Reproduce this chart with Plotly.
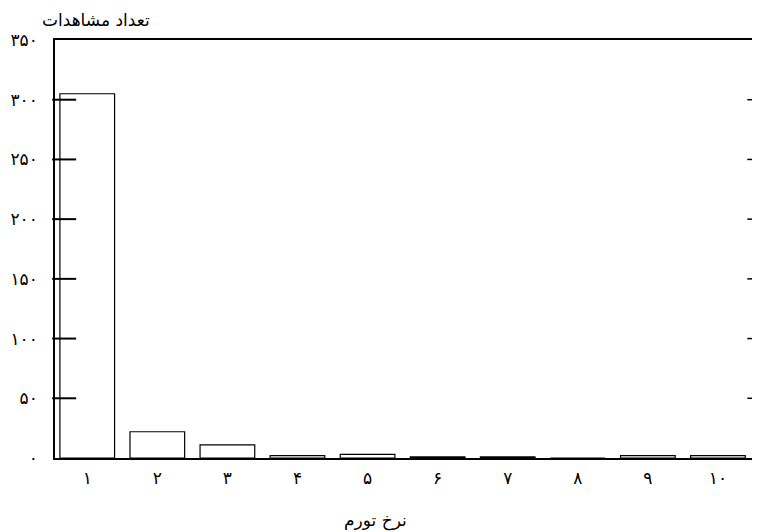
import plotly.graph_objects as go

categories = [1, 2, 3, 4, 5, 6, 7, 8, 9, 10]
category_labels = ["۱", "۲", "۳", "۴", "۵", "۶", "۷", "۸", "۹", "۱۰"]
counts = [305, 22, 11, 2, 3, 1, 1, 0, 2, 2]
y_tick_values = [0, 50, 100, 150, 200, 250, 300, 350]
y_tick_labels = ["۰", "۵۰", "۱۰۰", "۱۵۰", "۲۰۰", "۲۵۰", "۳۰۰", "۳۵۰"]
y_title = "تعداد مشاهدات"
x_title = "نرخ تورم"

FONT = "DejaVu Sans"

fig = go.Figure()
fig.add_trace(go.Bar(
    x=categories,
    y=counts,
    width=0.78,
    marker=dict(color="rgba(255,255,255,0)", line=dict(color="black", width=1.2)),
    showlegend=False,
))

fig.update_layout(
    width=752,
    height=524,
    paper_bgcolor="white",
    plot_bgcolor="white",
    margin=dict(l=47, r=0, t=32, b=74, autoexpand=False),
    font=dict(family=FONT, color="black", size=17),
    xaxis=dict(
        range=[0.54, 10.6],
        tickmode="array",
        tickvals=categories,
        ticktext=category_labels,
        showgrid=False,
        zeroline=False,
        showline=True,
        linecolor="black",
        linewidth=1.5,
        mirror=True,
        ticks="",
        tickfont=dict(size=17, family=FONT),
        ticklabelstandoff=4,
    ),
    yaxis=dict(
        range=[0, 350],
        tickmode="array",
        tickvals=y_tick_values,
        ticktext=y_tick_labels,
        showgrid=False,
        zeroline=False,
        ticks="",
        showline=True,
        linecolor="black",
        linewidth=1.5,
        tickfont=dict(size=17, family=FONT),
        ticklabelstandoff=12,
    ),
    annotations=[
        dict(
            text=y_title,
            xref="paper", yref="paper",
            x=0, y=1.0,
            xanchor="left", yanchor="bottom",
            xshift=-15, yshift=8,
            showarrow=False,
            font=dict(size=17, family=FONT, color="black"),
        ),
        dict(
            text=x_title,
            xref="paper", yref="paper",
            x=0.455, y=0,
            xanchor="center", yanchor="middle",
            yshift=-62,
            showarrow=False,
            font=dict(size=17, family=FONT, color="black"),
        ),
    ],
)

# tick marks on both vertical sides (inside the frame), placed at the y tick values
for v in y_tick_values[1:-1]:
    fig.add_shape(type="line", xref="paper", yref="y",
                  x0=-0.004, x1=0.03, y0=v, y1=v,
                  line=dict(color="black", width=2))
    fig.add_shape(type="line", xref="paper", yref="y",
                  x0=0.982, x1=1.0, y0=v, y1=v,
                  line=dict(color="black", width=1.5))

fig.write_html("out.html")
